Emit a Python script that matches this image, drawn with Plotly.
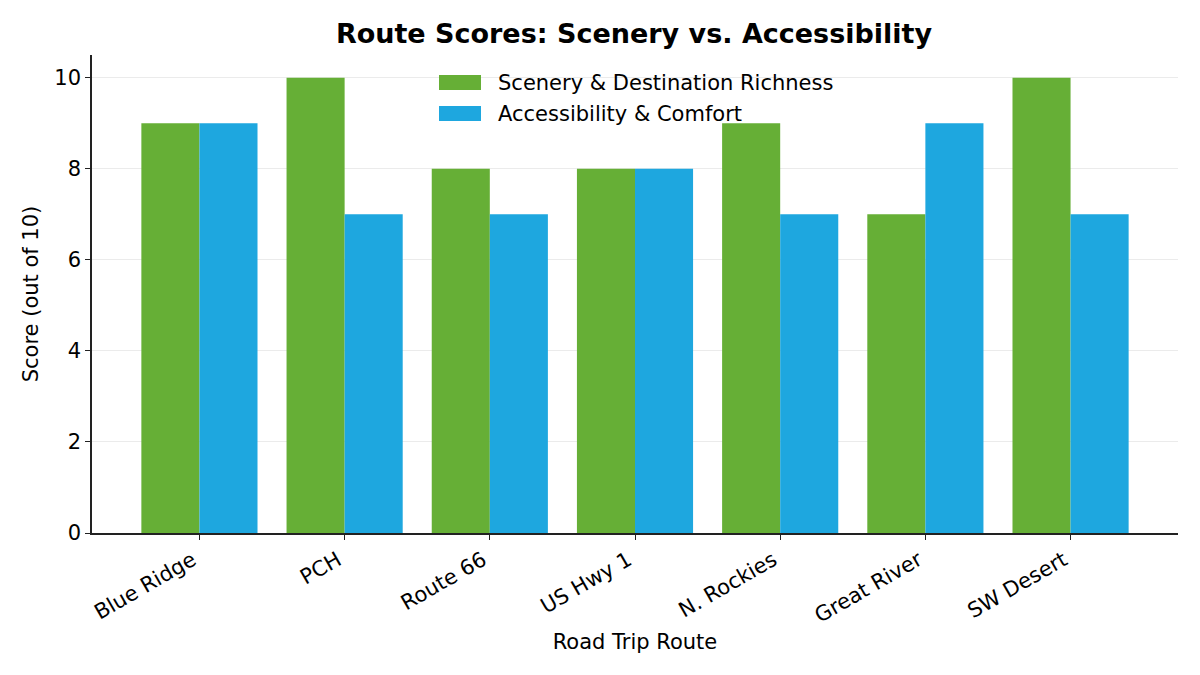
import plotly.graph_objects as go

routes = ["Blue Ridge", "PCH", "Route 66", "US Hwy 1", "N. Rockies", "Great River", "SW Desert"]
scenery = [9, 10, 8, 8, 9, 7, 10]
access = [9, 7, 7, 8, 7, 9, 7]
y_ticks = [0, 2, 4, 6, 8, 10]
series_names = ["Scenery & Destination Richness", "Accessibility & Comfort"]
series_colors = ["#66AF36", "#1EA7DF"]

font = "DejaVu Sans"

fig = go.Figure()
for vals, name, col in zip([scenery, access], series_names, series_colors):
    fig.add_trace(go.Bar(x=routes, y=vals, name=name,
                         marker=dict(color=col, line=dict(width=0))))

# page body adds an 8px offset, so margins are set in figure coords
OFF = 8
L, R, T, B = 92 - OFF, 30, 55 - OFF, 150
pw, ph = 1200 - L - R, 675 - T - B
def px(x):
    return (x - OFF - L) / pw
def py(y):
    return 1 - (y - OFF - T) / ph

# legend drawn by hand so the swatches are wide rectangles like matplotlib's
for i, (name, col) in enumerate(zip(series_names, series_colors)):
    yc = 82.5 + i * 31
    fig.add_shape(type="rect", xref="paper", yref="paper",
                  x0=px(439), x1=px(481), y0=py(yc + 7.5), y1=py(yc - 7.5),
                  fillcolor=col, line=dict(width=0))
    fig.add_annotation(xref="paper", yref="paper", x=px(496), y=py(yc),
                       xanchor="left", yanchor="middle", text=name,
                       showarrow=False, font=dict(size=21))

fig.update_layout(
    width=1200, height=675,
    barmode="group", bargap=0.2, bargroupgap=0,
    plot_bgcolor="white", paper_bgcolor="white",
    font=dict(family=font, size=21, color="black"),
    margin=dict(l=L, r=R, t=T, b=B, autoexpand=False),
    title=dict(text="<b>Route Scores: Scenery vs. Accessibility</b>",
               x=px(634) * pw / 1200 + L / 1200, xanchor="center",
               y=1 - (34 - OFF) / 675, yanchor="middle",
               font=dict(size=27)),
    showlegend=False,
)
fig.update_xaxes(
    range=[-0.74, 6.74], showline=True, linecolor="#222", linewidth=1.5,
    ticks="outside", ticklen=5, tickwidth=1.2, tickcolor="#222",
    tickangle=-30, showgrid=False, automargin=False,
    tickfont=dict(size=21), ticklabelshift=-7,
    title=dict(text="Road Trip Route", font=dict(size=21), standoff=8),
)
fig.update_yaxes(
    range=[0, 10.5], tickvals=y_ticks, showline=True, linecolor="#222", linewidth=1.5,
    ticks="outside", ticklen=5, tickwidth=1.2, tickcolor="#222",
    showgrid=True, gridcolor="#EBEBEB", gridwidth=1, zeroline=False,
    automargin=False, tickfont=dict(size=21),
    title=dict(text="Score (out of 10)", font=dict(size=21), standoff=10),
)

fig.write_html("out.html")
